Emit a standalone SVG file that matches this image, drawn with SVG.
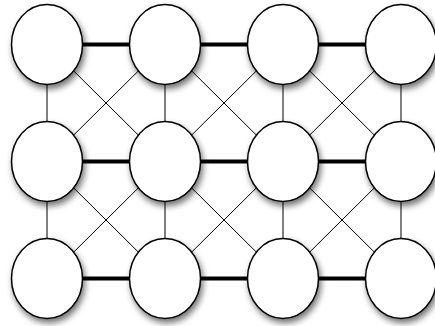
<svg xmlns="http://www.w3.org/2000/svg" width="435" height="326" viewBox="0 0 435 326">
<defs>
<filter id="sh" x="-30%" y="-30%" width="160%" height="160%">
<feDropShadow dx="2" dy="4" stdDeviation="3" flood-color="#000" flood-opacity="0.55"/>
</filter>
<style>
.thick{stroke:#000;stroke-width:4;fill:none}
.thin{stroke:#000;stroke-width:1;fill:none}
.node{fill:#fff;stroke:#000;stroke-width:1.5;filter:url(#sh)}
</style>
</defs>
<rect width="435" height="326" fill="#fff"/>
<g id="connectors">
<path class="thick" d="M47 44.5H401M47 161.5H401M47 278.5H401"/>
<path class="thin" d="M47 44.5V278.5M165 44.5V278.5M283 44.5V278.5M401 44.5V278.5"/>
<path class="thin" d="M47 44.5L165 161.5M165 44.5L47 161.5M165 44.5L283 161.5M283 44.5L165 161.5M283 44.5L401 161.5M401 44.5L283 161.5"/>
<path class="thin" d="M47 161.5L165 278.5M165 161.5L47 278.5M165 161.5L283 278.5M283 161.5L165 278.5M283 161.5L401 278.5M401 161.5L283 278.5"/>
</g>
<g id="n11"><ellipse class="node" cx="47" cy="44.5" rx="35.5" ry="40"/></g>
<g id="n12"><ellipse class="node" cx="165" cy="44.5" rx="35.5" ry="40"/></g>
<g id="n13"><ellipse class="node" cx="283" cy="44.5" rx="35.5" ry="40"/></g>
<g id="n14"><ellipse class="node" cx="401" cy="44.5" rx="35.5" ry="40"/></g>
<g id="n21"><ellipse class="node" cx="47" cy="161.5" rx="35.5" ry="40"/></g>
<g id="n22"><ellipse class="node" cx="165" cy="161.5" rx="35.5" ry="40"/></g>
<g id="n23"><ellipse class="node" cx="283" cy="161.5" rx="35.5" ry="40"/></g>
<g id="n24"><ellipse class="node" cx="401" cy="161.5" rx="35.5" ry="40"/></g>
<g id="n31"><ellipse class="node" cx="47" cy="278.5" rx="35.5" ry="40"/></g>
<g id="n32"><ellipse class="node" cx="165" cy="278.5" rx="35.5" ry="40"/></g>
<g id="n33"><ellipse class="node" cx="283" cy="278.5" rx="35.5" ry="40"/></g>
<g id="n34"><ellipse class="node" cx="401" cy="278.5" rx="35.5" ry="40"/></g>
</svg>
